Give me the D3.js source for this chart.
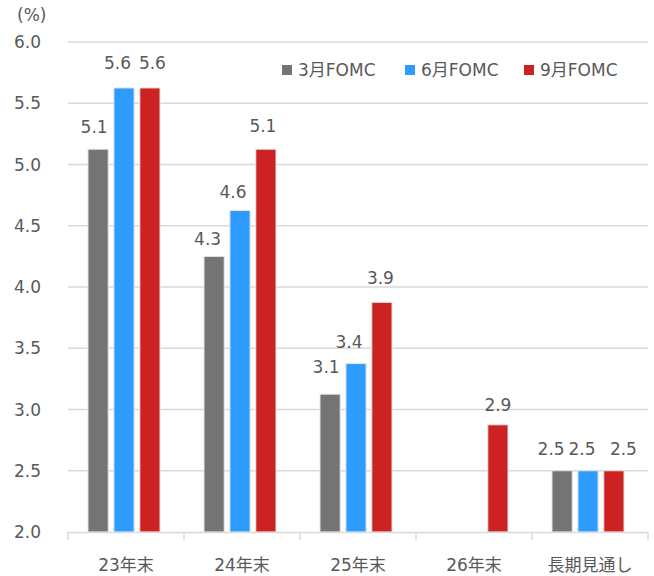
<!DOCTYPE html>
<html><head><meta charset="utf-8">
<script src="https://cdn.jsdelivr.net/npm/d3@7"></script>
<style>body{margin:0;background:#fff}svg text{font-family:"DejaVu Sans","Noto Sans CJK JP",sans-serif;fill:#595959}</style>
</head><body><svg id="c" width="654" height="576"></svg>
<script>
const categories = ["23年末","24年末","25年末","26年末","長期見通し"];
const seriesNames = ["3月FOMC","6月FOMC","9月FOMC"];
const marchValues = [5.125, 4.25, 3.125, null, 2.5];
const juneValues = [5.625, 4.625, 3.375, null, 2.5];
const septValues = [5.625, 5.125, 3.875, 2.875, 2.5];
const marchLabels = ["5.1","4.3","3.1",null,"2.5"];
const juneLabels = ["5.6","4.6","3.4",null,"2.5"];
const septLabels = ["5.6","5.1","3.9","2.9","2.5"];
const yTicks = [2.0,2.5,3.0,3.5,4.0,4.5,5.0,5.5,6.0];
const colors = ["#747474","#2E9BFF","#CC2222"];
// label nudges (style only), per series per category
const labelDx = [[-4,-6.5,-4,0,-11],[-6.5,-7,-7,0,-6],[2.5,-3,-1.5,0,9.5]];
const labelGap = [[16,11,21,0,16],[19,12,16,0,16],[19,17,18,14,16]];

const svg = d3.select("#c");
const pL=68, pR=648, pT=42, pB=532;
const x = d3.scaleBand().domain(categories).range([pL,pR]);
const xs = d3.scaleBand().domain(seriesNames).range([0,72]).paddingInner(0.22);
const y = d3.scaleLinear().domain([2,6]).range([pB,pT]);
const FS = 17;

// gridlines
svg.append("g").selectAll("line").data(yTicks.filter(d=>d>2)).join("line")
  .attr("x1",pL).attr("x2",pR).attr("y1",d=>y(d)).attr("y2",d=>y(d))
  .attr("stroke","#d9d9d9").attr("stroke-width",1.5);
// y labels
svg.append("g").selectAll("text").data(yTicks).join("text")
  .attr("x",41).attr("y",d=>y(d)).attr("dy","0.36em").attr("text-anchor","end")
  .attr("font-size",FS).text(d=>d.toFixed(1));
svg.append("text").attr("x",17).attr("y",21).attr("font-size",FS).text("(%)");

const series = [marchValues, juneValues, septValues];
const labels = [marchLabels, juneLabels, septLabels];
seriesNames.forEach((s,i)=>{
  const g = svg.append("g");
  const data = categories.map((c,j)=>({c,j,v:series[i][j],l:labels[i][j]})).filter(d=>d.v!=null);
  const bx = d=>x(d.c)+x.bandwidth()/2-38+xs(s);
  g.selectAll("rect").data(data).join("rect")
    .attr("x",bx).attr("width",xs.bandwidth())
    .attr("y",d=>y(d.v)).attr("height",d=>pB-y(d.v))
    .attr("fill",colors[i]).attr("stroke","#e6e6e6").attr("stroke-width",1);
  g.selectAll("text").data(data).join("text")
    .attr("x",d=>bx(d)+xs.bandwidth()/2+labelDx[i][d.j])
    .attr("y",d=>y(d.v)-labelGap[i][d.j]).attr("text-anchor","middle").attr("font-size",FS)
    .text(d=>d.l);
});

// x axis
const ax = svg.append("g");
ax.append("line").attr("x1",pL).attr("x2",pR).attr("y1",pB+0.5).attr("y2",pB+0.5).attr("stroke","#d9d9d9").attr("stroke-width",1.5);
const bounds = categories.map(c=>x(c)).concat([pR]);
ax.selectAll("line.t").data(bounds).join("line").attr("class","t")
  .attr("x1",d=>d).attr("x2",d=>d).attr("y1",pB).attr("y2",pB+8).attr("stroke","#d9d9d9").attr("stroke-width",1.5);
ax.selectAll("text").data(categories).join("text")
  .attr("x",d=>x(d)+x.bandwidth()/2).attr("y",565).attr("dy","0.36em").attr("text-anchor","middle")
  .attr("font-size",FS).text(d=>d);

// legend
const legX = [282, 405, 524];
const lg = svg.append("g");
seriesNames.forEach((s,i)=>{
  lg.append("rect").attr("x",legX[i]).attr("y",65).attr("width",10).attr("height",10).attr("fill",colors[i]);
  lg.append("text").attr("x",legX[i]+16).attr("y",70).attr("dy","0.36em").attr("font-size",FS).text(s);
});
</script></body></html>
